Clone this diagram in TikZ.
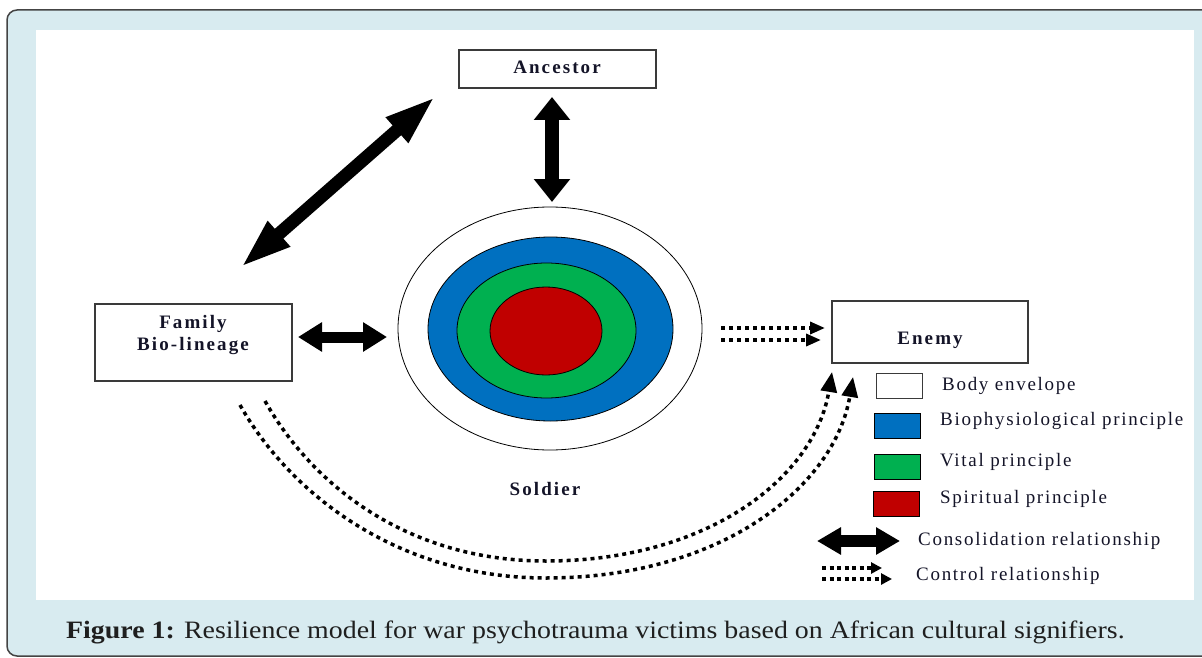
\documentclass[tikz,border=0pt]{standalone}
\usepackage{fontspec}
\setmainfont{Liberation Serif}
\newfontfamily\legfont[LetterSpace=9]{Liberation Serif}
\newfontfamily\boldlab[LetterSpace=11]{Liberation Serif}
\usetikzlibrary{arrows.meta,shapes.geometric}
\definecolor{bgblue}{HTML}{D8EBF0}
\definecolor{framec}{HTML}{444444}
\definecolor{boxc}{HTML}{3A3A3A}
\definecolor{bluep}{HTML}{0070C0}
\definecolor{greenp}{HTML}{00B050}
\definecolor{redp}{HTML}{C00000}
\definecolor{txt}{HTML}{141428}
\begin{document}
\begin{tikzpicture}[x=1pt,y=-1pt,
  box/.style={draw=boxc, line width=1.2pt, fill=white, inner sep=0pt},
  blabel/.style={font=\boldlab\bfseries\fontsize{19}{23}\selectfont, text=txt, inner sep=0pt, anchor=base},
  legtext/.style={font=\legfont\fontsize{19}{23}\selectfont, text=txt, anchor=base west, inner sep=0pt},
  legbox/.style={draw=black, line width=1pt, minimum width=46pt, minimum height=25pt, inner sep=0pt},
  ring/.style={ellipse, draw=black, line width=0.8pt, inner sep=0pt},
  fatv/.style={line width=14pt, {Triangle[length=23pt,width=35pt]}-{Triangle[length=23pt,width=35pt]}},
  fath/.style={line width=11pt, {Triangle[length=24pt,width=28pt]}-{Triangle[length=24pt,width=28pt]}},
  fatd/.style={line width=13pt, {Triangle[length=52pt,width=30pt]}-{Triangle[length=52pt,width=30pt]}},
  fatl/.style={line width=12pt, {Triangle[length=24pt,width=26pt]}-{Triangle[length=24pt,width=26pt]}},
  ctrl/.style={line width=3.5pt, dash pattern=on 4pt off 4pt, -{Triangle[length=15pt,width=12pt]}},
  ctrlarc/.style={line width=3.5pt, dash pattern=on 4pt off 4pt, -{Triangle[length=20pt,width=16pt]}},
  ctrlleg/.style={line width=3.2pt, dash pattern=on 4pt off 3.5pt, -{Triangle[length=11pt,width=11pt]}}
]
\useasboundingbox (0,0) rectangle (1202,658);
\begin{scope}
  \clip (0,0) rectangle (1202,658);
  \draw[draw=framec, line width=1.5pt, fill=bgblue, rounded corners=10pt] (7,10) rectangle (1240,656);
\end{scope}
\fill[white] (36,30) rectangle (1194,600);

% boxes
\node[box, minimum width=197pt, minimum height=38pt] (anc) at (557.5,69) {};
\node[blabel] (anct) at (557,74) {Ancestor};
\node[box, minimum width=197pt, minimum height=77pt] (fam) at (193.5,342.5) {};
\node[blabel] (famt1) at (193,328) {Family};
\node[blabel] (famt2) at (193,350.5) {Bio-lineage};
\node[box, minimum width=196pt, minimum height=62pt] (ene) at (930,332) {};
\node[blabel] (enet) at (930,344) {Enemy};

% soldier rings
\node[ring, fill=white, minimum width=304pt, minimum height=243pt] (sold) at (550,328.5) {};
\node[ring, fill=bluep, minimum width=245pt, minimum height=184pt] (bio) at (550.5,329) {};
\node[ring, fill=greenp, minimum width=179pt, minimum height=135pt] (vit) at (546.5,330.5) {};
\node[ring, fill=redp, minimum width=112pt, minimum height=88pt] (spi) at (546,331) {};
\node[blabel] (soldt) at (545,495) {Soldier};

% consolidation arrows
\coordinate (v1) at (552,97);
\coordinate (v2) at (552,202);
\draw[fatv] (v1) -- (v2);
\coordinate (h1) at (298,337);
\coordinate (h2) at (387,337);
\draw[fath] (h1) -- (h2);
\coordinate (d1) at (240,268);
\coordinate (d2) at (436,96);
\draw[fatd] (d1) -- (d2);

% control arrows to enemy
\coordinate (c1a) at (721,328);
\coordinate (c1b) at (825,328);
\coordinate (c2a) at (721,340);
\coordinate (c2b) at (821,340);
\draw[ctrl] (c1a) -- (c1b);
\draw[ctrl] (c2a) -- (c2b);

% arcs family -> enemy
\coordinate (ao1) at (240,405);
\coordinate (ao2) at (853,377);
\coordinate (ai1) at (265,401);
\coordinate (ai2) at (832,372);
\draw[ctrlarc] (ao1) .. controls (289,492) and (396,578) .. (546,578)
  .. controls (722,578) and (835,486) .. (ao2);
\draw[ctrlarc] (ai1) .. controls (311.5,483.7) and (406,561) .. (546,561)
  .. controls (710,561) and (815,476) .. (ai2);

% legend
\node[legbox, draw=boxc, fill=white] (lb1) at (899,385.5) {};
\node[legbox, fill=bluep] (lb2) at (897,425.5) {};
\node[legbox, fill=greenp] (lb3) at (897,466.5) {};
\node[legbox, fill=redp] (lb4) at (896.5,504) {};
\node[legtext] (lt1) at (942,390) {Body envelope};
\node[legtext] (lt2) at (940,425.7) {Biophysiological principle};
\node[legtext] (lt3) at (940,466) {Vital principle};
\node[legtext] (lt4) at (940,503) {Spiritual principle};
\coordinate (la1) at (817,541);
\coordinate (la2) at (900,541);
\draw[fatl] (la1) -- (la2);
\node[legtext] (lt5) at (918,545.7) {Consolidation relationship};
\coordinate (lc1a) at (822,568);
\coordinate (lc1b) at (882,568);
\coordinate (lc2a) at (822,579);
\coordinate (lc2b) at (892,579);
\draw[ctrlleg] (lc1a) -- (lc1b);
\draw[ctrlleg] (lc2a) -- (lc2b);
\node[legtext] (lt6) at (916,580) {Control relationship};

% caption
\node[anchor=base west, inner sep=0pt, font=\fontsize{25}{30}\selectfont, text=black!88] (cap) at (66,638)
  {\scalebox{1.115}[1]{\textbf{Figure 1:} Resilience model for war psychotrauma victims based on African cultural signifiers.}};
\end{tikzpicture}
\end{document}
